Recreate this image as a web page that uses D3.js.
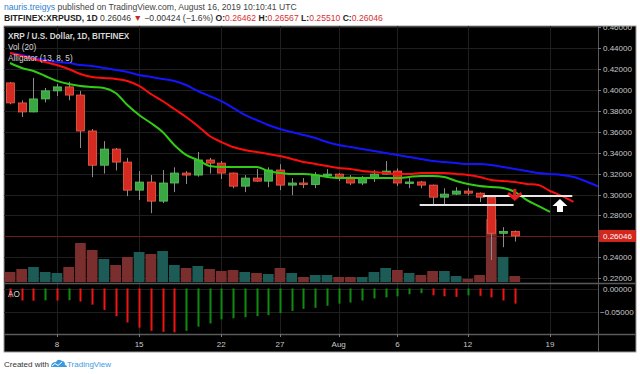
<!DOCTYPE html>
<html>
<head>
<meta charset="utf-8">
<script src="https://cdnjs.cloudflare.com/ajax/libs/d3/7.8.5/d3.min.js"></script>
<style>
body { margin: 0; background: #fff; }
svg { display: block; font-family: "Liberation Sans", Arial, sans-serif; }
</style>
</head>
<body>
<div id="chart"></div>
<script>
const width = 640;
const height = 374;

// daily candles, Jul 4 .. Aug 16 2019
const startDate = Date.UTC(2019, 6, 4);
const DAY = 864e5;

const opens = [0.4066, 0.3875, 0.3789, 0.3913, 0.3990, 0.4028, 0.3950, 0.3607, 0.3280, 0.3434,
    0.3310, 0.3042, 0.3119, 0.2937, 0.3110, 0.3205, 0.3186, 0.3330, 0.3300, 0.3205,
    0.3080, 0.3157, 0.3128, 0.3234, 0.3090, 0.3110, 0.3095, 0.3186, 0.3195, 0.3166,
    0.3110, 0.3157, 0.3195, 0.3224, 0.3110, 0.3120, 0.3090, 0.2975, 0.3004, 0.3033,
    0.3013, 0.2975, 0.2630, 0.26462];
const highs = [0.4075, 0.3900, 0.4114, 0.4018, 0.4057, 0.4076, 0.3990, 0.3626, 0.3510, 0.3444,
    0.3350, 0.3224, 0.3186, 0.3234, 0.3260, 0.3224, 0.3406, 0.3350, 0.3320, 0.3210,
    0.3186, 0.3243, 0.3260, 0.3290, 0.3157, 0.3157, 0.3214, 0.3243, 0.3205, 0.3186,
    0.3176, 0.3234, 0.3320, 0.3250, 0.3157, 0.3130, 0.3095, 0.3060, 0.3070, 0.3060,
    0.3020, 0.2985, 0.2688, 0.26567];
const lows = [0.3862, 0.3740, 0.3785, 0.3880, 0.3940, 0.3900, 0.3444, 0.3166, 0.3200, 0.3230,
    0.2985, 0.2947, 0.2822, 0.2918, 0.3023, 0.3100, 0.3170, 0.3200, 0.3148, 0.3060,
    0.3023, 0.3120, 0.3070, 0.3042, 0.2994, 0.3061, 0.3061, 0.3157, 0.3128, 0.3090,
    0.3090, 0.3120, 0.3190, 0.3080, 0.3061, 0.3060, 0.2899, 0.2910, 0.2995, 0.2990,
    0.2928, 0.2375, 0.2497, 0.25510];
const closes = [0.3875, 0.3789, 0.3913, 0.3990, 0.4028, 0.3950, 0.3607, 0.3280, 0.3434, 0.3310,
    0.3042, 0.3119, 0.2937, 0.3110, 0.3205, 0.3186, 0.3330, 0.3300, 0.3205, 0.3080,
    0.3157, 0.3128, 0.3234, 0.3090, 0.3110, 0.3095, 0.3186, 0.3195, 0.3166, 0.3110,
    0.3157, 0.3195, 0.3224, 0.3110, 0.3120, 0.3090, 0.2975, 0.3004, 0.3033, 0.3013,
    0.2975, 0.2630, 0.2647, 0.26046];
// volume, millions XRP
const volumes = [20, 26, 30, 20, 18, 30, 78, 64, 46, 34,
    50, 60, 56, 62, 34, 28, 32, 26, 22, 24,
    20, 18, 16, 28, 18, 10, 14, 14, 10, 10,
    10, 20, 28, 24, 18, 14, 22, 22, 12, 6,
    14, 126, 50, 12];
// Awesome Oscillator
const aoValues = [-0.0193, -0.0261, -0.0265, -0.0258, -0.0262, -0.0255, -0.0284, -0.0352, -0.0466, -0.0602,
    -0.0738, -0.0851, -0.0920, -0.0942, -0.0953, -0.0920, -0.0829, -0.0760, -0.0670, -0.0647,
    -0.0624, -0.0602, -0.0579, -0.0534, -0.0488, -0.0443, -0.0420, -0.0375, -0.0329, -0.0306,
    -0.0261, -0.0216, -0.0193, -0.0170, -0.0125, -0.0102, -0.0148, -0.0170, -0.0182, -0.0148,
    -0.0159, -0.0193, -0.0261, -0.0329];

// Alligator (13, 8, 5), one value per day from Jul 4, shifted forward
const jaw = [0.4352, 0.4333, 0.4304, 0.4285, 0.4266, 0.4256, 0.4237, 0.4228, 0.4209, 0.4190,
    0.4171, 0.4142, 0.4123, 0.4104, 0.4085, 0.4046, 0.3989, 0.3941, 0.3893, 0.3827,
    0.3760, 0.3712, 0.3664, 0.3626, 0.3597, 0.3569, 0.3540, 0.3502, 0.3473, 0.3454,
    0.3435, 0.3416, 0.3397, 0.3378, 0.3359, 0.3340, 0.3320, 0.3311, 0.3301, 0.3292,
    0.3292, 0.3282, 0.3263, 0.3244, 0.3225, 0.3206, 0.3196, 0.3187, 0.3168, 0.3129,
    0.3082, 0.3034];
const teeth = [0.4352, 0.4323, 0.4295, 0.4266, 0.4237, 0.4199, 0.4151, 0.4123, 0.4113, 0.4104,
    0.4085, 0.4037, 0.3960, 0.3893, 0.3817, 0.3741, 0.3655, 0.3559, 0.3502, 0.3454,
    0.3426, 0.3406, 0.3387, 0.3368, 0.3340, 0.3311, 0.3292, 0.3273, 0.3254, 0.3244,
    0.3225, 0.3215, 0.3206, 0.3196, 0.3196, 0.3206, 0.3206, 0.3206, 0.3196, 0.3187,
    0.3168, 0.3139, 0.3129, 0.3120, 0.3101, 0.3091, 0.3034, 0.2987, 0.2929];
const lips = [0.4256, 0.4209, 0.4180, 0.4132, 0.4085, 0.4056, 0.4037, 0.4027, 0.4018, 0.3970,
    0.3855, 0.3760, 0.3683, 0.3597, 0.3473, 0.3378, 0.3330, 0.3273, 0.3263, 0.3263,
    0.3263, 0.3263, 0.3225, 0.3206, 0.3196, 0.3196, 0.3187, 0.3168, 0.3158, 0.3158,
    0.3158, 0.3158, 0.3158, 0.3158, 0.3168, 0.3177, 0.3177, 0.3168, 0.3129, 0.3101,
    0.3082, 0.3072, 0.3063, 0.3025, 0.2949, 0.2891, 0.2834];

const priceTicks = [0.22, 0.24, 0.26, 0.28, 0.30, 0.32, 0.34, 0.36, 0.38, 0.40, 0.42, 0.44, 0.46];
const aoTicks = [0, -0.05];
const timeTickDates = ["2019-07-08", "2019-07-15", "2019-07-22", "2019-07-27", "2019-08-01", "2019-08-06", "2019-08-12", "2019-08-19"];
const timeTickLabels = ["8", "15", "22", "27", "Aug", "6", "12", "19"];
const lastPrice = 0.26046;

// drawn levels: [from day, to day, price]
const levelLines = [[34.9, 42.9, 0.2900], [40.3, 47.9, 0.2986]];
const arrowDown = [43.0, 0.2938];
const arrowUp = [46.85, 0.2957];

const days = d3.range(44).map(i => new Date(startDate + i * DAY));
const dayDate = i => new Date(startDate + i * DAY);

// layout
const leftX = 4, rightX = 598, outerRightX = 636;
const topY = 26, mainBottomY = 283, aoBottomY = 334, bottomY = 352;

const x = d3.scaleUtc()
    .domain([dayDate(-0.51), dayDate(50.09)])
    .range([leftX, rightX]);
const y = d3.scaleLinear().domain([0.22, 0.46]).range([278.3, 27]);
const yVol = d3.scaleLinear().domain([0, d3.max(volumes)]).range([mainBottomY - 1, 219]);
const yAo = d3.scaleLinear().domain([0, -0.05]).range([288.5, 311.5]);

const svg = d3.select("#chart")
    .append("svg")
    .attr("width", width)
    .attr("height", height);

svg.append("defs").append("clipPath").attr("id", "mainClip")
    .append("rect").attr("x", leftX).attr("y", topY).attr("width", rightX - leftX).attr("height", mainBottomY - topY);

// background
svg.append("rect").attr("x", leftX).attr("y", topY).attr("width", outerRightX - leftX).attr("height", bottomY - topY)
    .attr("fill", "#000").attr("stroke", "#9a9a9a").attr("stroke-width", 1);

// header
const h1 = svg.append("text").attr("x", 4).attr("y", 10).style("font-size", "8.6px").attr("fill", "#444");
h1.append("tspan").attr("fill", "#2f7fd0").text("nauris.treigys");
h1.append("tspan").text(" published on TradingView.com, August 16, 2019 10:10:41 UTC");

const h2 = svg.append("text").attr("x", 4).attr("y", 21).style("font-size", "8.6px").attr("fill", "#333");
h2.append("tspan").attr("font-weight", "bold").attr("fill", "#222").text("BITFINEX:XRPUSD, 1D");
h2.append("tspan").text("  0.26046 ");
h2.append("tspan").attr("fill", "#c62828").text("▼");
h2.append("tspan").text(" \u22120.00424 (\u22121.6%) ");
[["O:", "0.26462"], ["H:", "0.26567"], ["L:", "0.25510"], ["C:", "0.26046"]].forEach(([k, v]) => {
    h2.append("tspan").attr("font-weight", "bold").attr("fill", "#222").text(k);
    h2.append("tspan").attr("fill", "#d32f2f").text(v + " ");
});

// grid
const grid = svg.append("g").attr("stroke", "#1f1f1f").attr("stroke-width", 1);
grid.selectAll(".hg").data(priceTicks).enter().append("line")
    .attr("x1", leftX).attr("x2", rightX)
    .attr("y1", d => Math.round(y(d)) + 0.5).attr("y2", d => Math.round(y(d)) + 0.5);
grid.selectAll(".ag").data(aoTicks).enter().append("line")
    .attr("x1", leftX).attr("x2", rightX)
    .attr("y1", d => Math.round(yAo(d)) + 0.5).attr("y2", d => Math.round(yAo(d)) + 0.5);
grid.selectAll(".vg").data(timeTickDates).enter().append("line")
    .attr("x1", d => Math.round(x(new Date(d))) + 0.5).attr("x2", d => Math.round(x(new Date(d))) + 0.5)
    .attr("y1", topY).attr("y2", aoBottomY);

const main = svg.append("g").attr("clip-path", "url(#mainClip)");

// volume
const bw = 11.74;
main.append("g").selectAll("rect")
    .data(volumes)
    .enter()
    .append("rect")
    .attr("x", (d, i) => x(days[i]) - bw / 2 + 0.5)
    .attr("width", bw - 1)
    .attr("y", d => yVol(d))
    .attr("height", d => yVol(0) - yVol(d))
    .attr("fill", (d, i) => closes[i] >= opens[i] ? "#1c5b56" : "#7a2e2e");

// current price line
main.append("line")
    .attr("x1", leftX).attr("x2", rightX)
    .attr("y1", Math.round(y(lastPrice)) + 0.5).attr("y2", Math.round(y(lastPrice)) + 0.5)
    .attr("stroke", "#6e1a18").attr("stroke-width", 1);

// candles
const candles = main.append("g");
candles.selectAll("line")
    .data(days)
    .enter()
    .append("line")
    .attr("x1", d => Math.round(x(d)) + 0.5).attr("x2", d => Math.round(x(d)) + 0.5)
    .attr("y1", (d, i) => y(highs[i])).attr("y2", (d, i) => y(lows[i]))
    .attr("stroke", "#8c8c8c");
candles.selectAll("rect")
    .data(days)
    .enter()
    .append("rect")
    .attr("x", d => Math.round(x(d)) - 3.5)
    .attr("width", 8)
    .attr("y", (d, i) => y(Math.max(opens[i], closes[i])))
    .attr("height", (d, i) => Math.max(1.5, Math.abs(y(opens[i]) - y(closes[i]))))
    .attr("fill", (d, i) => closes[i] >= opens[i] ? "#3aa842" : "#d52a22")
    .attr("stroke", (d, i) => closes[i] >= opens[i] ? "#5cc45f" : "#ef6048")
    .attr("stroke-width", 0.8);

// alligator
const line = d3.line().x((d, i) => x(dayDate(i))).y(d => y(d)).curve(d3.curveMonotoneX);
[[jaw, "#1414ff"], [teeth, "#ff0d0d"], [lips, "#33cc14"]].forEach(([series, color]) => {
    main.append("path")
        .attr("d", line(series))
        .attr("fill", "none")
        .attr("stroke", color)
        .attr("stroke-width", 2);
});

// drawings
main.selectAll(".lvl").data(levelLines).enter().append("line")
    .attr("x1", d => x(dayDate(d[0]))).attr("x2", d => x(dayDate(d[1])))
    .attr("y1", d => y(d[2])).attr("y2", d => y(d[2]))
    .attr("stroke", "#e6e6e6").attr("stroke-width", 2);

const ad = [x(dayDate(arrowDown[0])), y(arrowDown[1])];
main.append("path")
    .attr("d", `M${ad[0] - 1.6},${ad[1] - 12} h3.2 v6.5 l4.2,-3.6 l1.8,2.2 l-7.6,6.9 l-7.6,-6.9 l1.8,-2.2 l4.2,3.6 z`)
    .attr("fill", "#e02020");
const au = [x(dayDate(arrowUp[0])), y(arrowUp[1])];
main.append("path")
    .attr("d", `M${au[0]},${au[1]} l7.5,7 h-4.5 v6 h-6 v-6 h-4.5 z`)
    .attr("fill", "#fff");

// AO histogram
svg.append("g").selectAll("line")
    .data(aoValues)
    .enter()
    .append("line")
    .attr("x1", (d, i) => Math.round(x(days[i])) + 0.5).attr("x2", (d, i) => Math.round(x(days[i])) + 0.5)
    .attr("y1", yAo(0)).attr("y2", d => yAo(d))
    .attr("stroke", (d, i) => i > 0 && d >= aoValues[i - 1] ? "#0e8c0e" : "#f01414")
    .attr("stroke-width", 2);

// pane separators and axis lines
const sep = svg.append("g").attr("stroke", "#5a5a5a");
sep.append("line").attr("x1", leftX).attr("x2", outerRightX).attr("y1", mainBottomY + 0.5).attr("y2", mainBottomY + 0.5).attr("stroke-width", 1.5);
sep.append("line").attr("x1", leftX).attr("x2", outerRightX).attr("y1", aoBottomY + 0.5).attr("y2", aoBottomY + 0.5).attr("stroke-width", 1.5);
sep.append("line").attr("x1", rightX + 0.5).attr("x2", rightX + 0.5).attr("y1", topY).attr("y2", bottomY).attr("stroke-width", 1);

// price axis
const pAxis = svg.append("g").style("font-size", "8px").attr("fill", "#c8c8c8");
pAxis.selectAll("text").data(priceTicks.filter(d => d !== 0.26)).enter().append("text")
    .attr("x", 603).attr("y", d => y(d) + 3).text(d => d3.format(".5f")(d));
pAxis.selectAll("line").data(priceTicks).enter().append("line")
    .attr("x1", rightX).attr("x2", rightX + 3)
    .attr("y1", d => Math.round(y(d)) + 0.5).attr("y2", d => Math.round(y(d)) + 0.5)
    .attr("stroke", "#777");
const aAxis = svg.append("g").style("font-size", "8px").attr("fill", "#c8c8c8");
aAxis.selectAll("text").data(aoTicks).enter().append("text")
    .attr("x", d => d < 0 ? 600 : 603).attr("y", d => yAo(d) + 3)
    .text(d => d3.format(".5f")(d).replace("-", "\u2212"));

// current price label
svg.append("rect").attr("x", rightX + 1).attr("y", y(lastPrice) - 6).attr("width", 37).attr("height", 12).attr("fill", "#d3261d");
svg.append("text").attr("x", 603).attr("y", y(lastPrice) + 3).style("font-size", "8px").attr("fill", "#fff")
    .text(d3.format(".5f")(lastPrice));

// time axis
const tAxis = svg.append("g").style("font-size", "8px").attr("fill", "#c8c8c8").attr("text-anchor", "middle");
tAxis.selectAll("text").data(timeTickDates).enter().append("text")
    .attr("x", d => x(new Date(d))).attr("y", 347)
    .text((d, i) => timeTickLabels[i]);
tAxis.selectAll("line").data(timeTickDates).enter().append("line")
    .attr("x1", d => Math.round(x(new Date(d))) + 0.5).attr("x2", d => Math.round(x(new Date(d))) + 0.5)
    .attr("y1", aoBottomY).attr("y2", aoBottomY + 3).attr("stroke", "#777");

// legends
const lg = svg.append("g").style("font-size", "8.2px").attr("fill", "#d6d6d6");
lg.append("text").attr("x", 8).attr("y", 39).attr("font-weight", "bold").text("XRP / U.S. Dollar, 1D, BITFINEX");
lg.append("text").attr("x", 8).attr("y", 50).text("Vol (20)");
lg.append("text").attr("x", 8).attr("y", 61).text("Alligator (13, 8, 5)");
lg.append("text").attr("x", 8).attr("y", 297).text("AO");

// footer
const ft = svg.append("g").style("font-size", "8px");
ft.append("text").attr("x", 4).attr("y", 367).attr("fill", "#333").text("Created with");
ft.append("path")
    .attr("d", "M51,367 q0,-5 5,-5 q2,-4 6,-1 q3,0 3,4 q2,0 2,2 z")
    .attr("fill", "#3c9be0");
ft.append("path")
    .attr("d", "M52,366 l3,-2.5 l3,2 l4,-3.5")
    .attr("fill", "none").attr("stroke", "#fff").attr("stroke-width", 1);
ft.append("text").attr("x", 67).attr("y", 367).attr("fill", "#3c9be0").text("TradingView");
</script>
</body>
</html>
